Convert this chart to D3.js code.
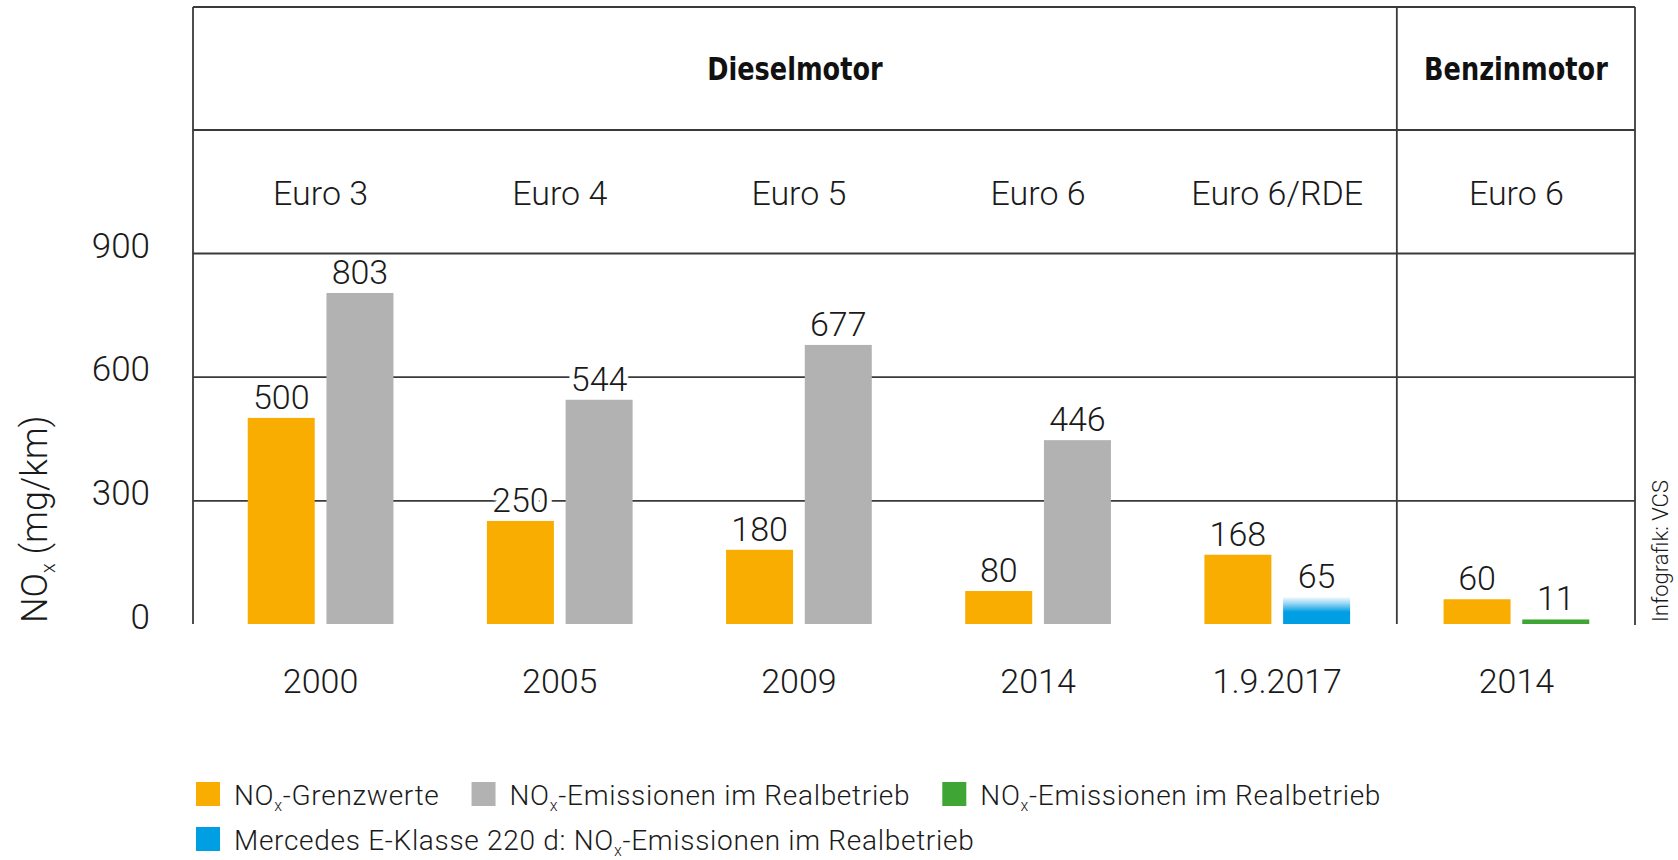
<!DOCTYPE html>
<html>
<head>
<meta charset="utf-8">
<script src="https://cdn.jsdelivr.net/npm/d3@7"></script>
<style>
  body { margin: 0; background: #fff; }
  svg text { font-family: Roboto, "Liberation Sans", sans-serif; font-weight: 300; fill: #1a1a1a; }
</style>
</head>
<body>
<svg id="chart" width="1678" height="860"></svg>
<script>
// data
var years = ["2000", "2005", "2009", "2014", "1.9.2017", "2014"];
var norms = ["Euro 3", "Euro 4", "Euro 5", "Euro 6", "Euro 6/RDE", "Euro 6"];
var engineNames = ["Dieselmotor", "Benzinmotor"];
var engineCounts = [5, 1];
var limits = [500, 250, 180, 80, 168, 60];
var realValues = [803, 544, 677, 446, 65, 11];
var realSeries = [1, 1, 1, 1, 3, 2];   // index into legend
var yTicks = [0, 300, 600, 900];
var legendLabels = [
  "NOx-Grenzwerte",
  "NOx-Emissionen im Realbetrieb",
  "NOx-Emissionen im Realbetrieb",
  "Mercedes E-Klasse 220 d: NOx-Emissionen im Realbetrieb"
];
var legendColors = ["#f8ad00", "#b1b2b1", "#3fa535", "#009fe3"];

var svg = d3.select("#chart");
var lineColor = "#3a3a3a";

var axisX = 193, rightX = 1635;
var headerTop = 7, headerMid = 130;

var x = d3.scaleBand()
  .domain(d3.range(years.length))
  .range([201, 1636])
  .paddingInner(0);

var sub = d3.scaleBand()
  .domain([0, 1])
  .range([-72.85, 72.85])
  .paddingInner(0.149);

var y = d3.scaleLinear()
  .domain([0, 900])
  .range([624, 253]);

// blue gradient for the Mercedes bar
var defs = svg.append("defs");
var grad = defs.append("linearGradient")
  .attr("id", "blueGrad")
  .attr("x1", 0).attr("y1", 0).attr("x2", 0).attr("y2", 1);
grad.append("stop").attr("offset", "0%").attr("stop-color", "#f2fafe");
grad.append("stop").attr("offset", "20%").attr("stop-color", "#a6dbf6");
grad.append("stop").attr("offset", "55%").attr("stop-color", "#009fe3");
grad.append("stop").attr("offset", "100%").attr("stop-color", "#009fe3");

// gridlines
var grid = svg.append("g")
  .attr("transform", "translate(" + axisX + ",0)")
  .call(d3.axisLeft(y).tickValues([300, 600, 900]).tickSize(-(rightX - axisX)).tickFormat(""));
grid.select(".domain").remove();
grid.selectAll("line").attr("stroke", lineColor).attr("stroke-width", 1.8);

// table lines of the header
var sepX = x(engineCounts[0]);
svg.append("g").selectAll("line")
  .data([
    [axisX, headerTop, rightX, headerTop],
    [axisX, headerMid, rightX, headerMid],
    [axisX, headerTop, axisX, y(0)],
    [sepX, headerTop, sepX, y(0)],
    [rightX, headerTop, rightX, y(0) + 1]
  ])
  .enter().append("line")
  .attr("x1", function(d) { return d[0]; })
  .attr("y1", function(d) { return d[1]; })
  .attr("x2", function(d) { return d[2]; })
  .attr("y2", function(d) { return d[3]; })
  .attr("stroke", lineColor)
  .attr("stroke-width", 1.8);

// engine headers (heavy, condensed)
var engineCenters = [(axisX + sepX) / 2, (sepX + rightX) / 2];
svg.append("g").selectAll("text")
  .data(engineNames)
  .enter().append("text")
  .attr("transform", function(d, i) { return "translate(" + engineCenters[i] + ",80) scale(0.8,1)"; })
  .attr("text-anchor", "middle")
  .style("font-family", "'DejaVu Sans', sans-serif")
  .style("font-weight", "bold")
  .style("font-size", "32px")
  .style("fill", "#111")
  .text(function(d) { return d; });

// norm labels
svg.append("g").selectAll("text")
  .data(norms)
  .enter().append("text")
  .attr("x", function(d, i) { return x(i) + x.bandwidth() / 2; })
  .attr("y", 205)
  .attr("text-anchor", "middle")
  .style("font-size", "34px")
  .text(function(d) { return d; });

// year labels
svg.append("g").selectAll("text")
  .data(years)
  .enter().append("text")
  .attr("x", function(d, i) { return x(i) + x.bandwidth() / 2; })
  .attr("y", 693)
  .attr("text-anchor", "middle")
  .style("font-size", "34px")
  .text(function(d) { return d; });

// y axis labels
var yAxis = svg.append("g")
  .attr("transform", "translate(" + axisX + ",0)")
  .call(d3.axisLeft(y).tickValues(yTicks).tickSize(0).tickPadding(43));
yAxis.select(".domain").remove();
yAxis.selectAll("text")
  .attr("dy", 4)
  .attr("fill", "#1a1a1a")
  .style("font-size", "35px");

// y axis title
var yTitle = svg.append("text")
  .attr("transform", "translate(47,623) rotate(-90)")
  .style("font-size", "36px");
yTitle.append("tspan").text("NO");
yTitle.append("tspan").attr("dy", 8).style("font-size", "20px").text("x");
yTitle.append("tspan").attr("dy", -8).text(" (mg/km)");

// bars
var rows = years.map(function(d, i) {
  return [
    { i: i, k: 0, v: limits[i], s: 0 },
    { i: i, k: 1, v: realValues[i], s: realSeries[i] }
  ];
});
var groups = svg.append("g").selectAll("g")
  .data(rows)
  .enter().append("g")
  .attr("transform", function(d, i) { return "translate(" + (x(i) + x.bandwidth() / 2) + ",0)"; });

groups.selectAll("rect")
  .data(function(d) { return d; })
  .enter().append("rect")
  .attr("x", function(d) { return sub(d.k); })
  .attr("width", sub.bandwidth())
  .attr("y", function(d) { return y(d.v); })
  .attr("height", function(d) { return y(0) - y(d.v); })
  .attr("fill", function(d) { return d.s === 3 ? "url(#blueGrad)" : legendColors[d.s]; });

// value labels, white halo cuts the gridlines
groups.selectAll("text")
  .data(function(d) { return d; })
  .enter().append("text")
  .attr("x", function(d) { return sub(d.k) + sub.bandwidth() / 2; })
  .attr("y", function(d) { return y(d.v) - 9; })
  .attr("text-anchor", "middle")
  .style("font-size", "34px")
  .style("stroke", "#fff")
  .style("stroke-width", 10)
  .style("stroke-linejoin", "round")
  .style("paint-order", "stroke")
  .text(function(d) { return d.v; });

// legend
function addLabel(sel, label) {
  var parts = label.split("NOx");
  sel.append("tspan").text(parts[0] + "NO");
  sel.append("tspan").attr("dy", 6).style("font-size", "16px").text("x");
  sel.append("tspan").attr("dy", -6).text(parts[1]);
}

var legend = svg.append("g");
var legendRows = [[0, 1, 2], [3]];
legendRows.forEach(function(row, r) {
  var lx = 196;
  var ly = 782 + r * 45;
  row.forEach(function(k) {
    var item = legend.append("g").attr("transform", "translate(" + lx + "," + ly + ")");
    item.append("rect")
      .attr("width", 24).attr("height", 24)
      .attr("fill", legendColors[k]);
    var t = item.append("text")
      .attr("x", 38).attr("y", 23)
      .style("font-size", "28px")
      .style("letter-spacing", "0.7px");
    addLabel(t, legendLabels[k]);
    lx += 38 + t.node().getComputedTextLength() + 32;
  });
});

// source
svg.append("text")
  .attr("transform", "translate(1668,622) rotate(-90)")
  .style("font-size", "22px")
  .text("Infografik: VCS");
</script>
</body>
</html>
